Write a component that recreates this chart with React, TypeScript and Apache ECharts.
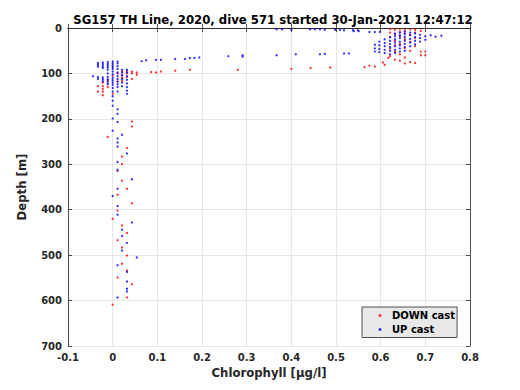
import React, { useEffect, useRef } from "react";
import * as echarts from "echarts";

const titleText = "SG157 TH Line, 2020, dive 571 started 30-Jan-2021 12:47:12";
const xTicks = [-0.1, 0, 0.1, 0.2, 0.3, 0.4, 0.5, 0.6, 0.7, 0.8];
const yTicks = [0, 100, 200, 300, 400, 500, 600, 700];
const seriesNames = ["DOWN cast", "UP cast"];

// DOWN cast [chlorophyll, depth]
const downSurface: number[][] = [
  [0.621, 2], [0.621, 10], [0.621, 20], [0.621, 45], [0.621, 62],
  [0.632, 4], [0.632, 14], [0.632, 28], [0.632, 38], [0.632, 52], [0.632, 70],
  [0.643, 2], [0.643, 8], [0.643, 18], [0.643, 35], [0.643, 58], [0.643, 72],
  [0.654, 5], [0.654, 12], [0.654, 24], [0.654, 44], [0.654, 65], [0.654, 78],
  [0.666, 3], [0.666, 15], [0.666, 30], [0.666, 50], [0.666, 75],
  [0.677, 4], [0.677, 10], [0.677, 22], [0.677, 40], [0.677, 77],
  [0.69, 6], [0.69, 52], [0.69, 60], [0.7, 52], [0.7, 60],
  [0.609, 81], [0.605, 76], [0.617, 66], [0.564, 86], [0.575, 83], [0.587, 85],
];
const downBranch: number[][] = [
  [0.487, 87], [0.443, 88], [0.4, 90], [0.28, 92], [0.173, 92], [0.14, 94],
  [0.108, 96], [0.097, 98], [0.086, 97], [0.054, 103], [0.054, 98],
  [0.043, 96], [0.043, 100], [0.043, 112],
];
const downCluster: number[][] = [
  [-0.033, 128], [-0.033, 140], [-0.022, 120], [-0.022, 128], [-0.022, 134],
  [-0.022, 140], [-0.022, 148], [-0.011, 115], [-0.011, 122], [-0.011, 130],
  [0, 105], [0, 145], [0.011, 100], [0.011, 118], [0.021, 96], [0.021, 104],
  [0.021, 110], [0.021, 116], [0.032, 94], [0.032, 100], [0.032, 108],
];
const downDeep: number[][] = [
  [0.043, 206], [0.043, 217], [-0.011, 240], [0.032, 264], [0.021, 283],
  [0.021, 300], [0.011, 315], [0.021, 336], [0.032, 354], [0.011, 367],
  [0.043, 386], [0.011, 402], [0, 420], [0.021, 435], [0.032, 451],
  [0.011, 467], [0.021, 483], [0.032, 501], [0.021, 519], [0.032, 534],
  [0.011, 549], [0.043, 564], [0.032, 593], [0, 609],
];

// UP cast [chlorophyll, depth]
const upTop: number[][] = [
  [0.367, 3], [0.379, 3], [0.4, 4], [0.442, 3], [0.453, 3], [0.464, 3],
  [0.475, 4], [0.498, 4], [0.509, 4], [0.518, 5], [0.538, 5], [0.549, 5],
  [0.54, 7], [0.551, 7], [0.575, 9], [0.587, 9], [0.598, 9],
];
const upBranch: number[][] = [
  [0.065, 73], [0.075, 71], [0.097, 70], [0.108, 70], [0.14, 68], [0.162, 68],
  [0.173, 66], [0.183, 66], [0.194, 65], [0.259, 62], [0.291, 60], [0.291, 63],
  [0.367, 60], [0.41, 58], [0.464, 58], [0.475, 57], [0.518, 56], [0.529, 56],
];
const upSurface: number[][] = [
  [0.587, 37], [0.587, 45], [0.587, 52],
  [0.597, 30], [0.597, 38], [0.597, 46], [0.597, 53],
  [0.609, 25], [0.609, 33], [0.609, 40], [0.609, 48], [0.609, 55],
  [0.621, 20], [0.621, 28], [0.621, 35], [0.621, 42], [0.621, 50], [0.621, 58],
  [0.632, 12], [0.632, 18], [0.632, 25], [0.632, 32], [0.632, 40], [0.632, 48], [0.632, 55],
  [0.643, 10], [0.643, 16], [0.643, 22], [0.643, 30], [0.643, 38], [0.643, 45], [0.643, 52],
  [0.654, 8], [0.654, 14], [0.654, 20], [0.654, 28], [0.654, 35], [0.654, 42], [0.654, 50],
  [0.666, 10], [0.666, 16], [0.666, 24], [0.666, 32], [0.666, 40],
  [0.677, 12], [0.677, 20], [0.677, 28], [0.677, 36],
  [0.688, 15], [0.688, 22], [0.688, 30], [0.7, 18], [0.7, 26],
  [0.712, 16], [0.723, 19], [0.736, 17],
];
const upCluster: number[][] = [
  [-0.044, 106],
  [-0.033, 77], [-0.033, 81], [-0.033, 85], [-0.033, 108], [-0.033, 112],
  [-0.022, 76], [-0.022, 80], [-0.022, 84], [-0.022, 88], [-0.022, 109], [-0.022, 113], [-0.022, 117],
  [-0.011, 75], [-0.011, 79], [-0.011, 83], [-0.011, 87], [-0.011, 92], [-0.011, 100],
  [-0.011, 108], [-0.011, 113], [-0.011, 118], [-0.011, 124],
  [0, 74], [0, 78], [0, 82], [0, 86], [0, 90], [0, 96], [0, 102], [0, 110], [0, 115],
  [0, 120], [0, 125], [0, 132], [0, 140], [0, 150], [0, 160],
  [0.011, 74], [0.011, 78], [0.011, 84], [0.011, 90], [0.011, 98], [0.011, 106],
  [0.011, 112], [0.011, 118], [0.011, 124], [0.011, 130], [0.011, 140],
  [0.021, 92], [0.021, 98], [0.021, 104], [0.021, 112], [0.021, 120], [0.021, 128],
  [0.032, 92], [0.032, 98], [0.032, 106], [0.032, 114], [0.032, 122], [0.032, 130],
  [0.032, 138], [0.032, 145],
];
const upDeep: number[][] = [
  [0, 171], [0.011, 179], [0.011, 189], [0, 199], [0.011, 207], [0, 226],
  [0.021, 235], [0.011, 243], [0.011, 252], [0.011, 261], [0.032, 276],
  [0.011, 295], [0.011, 312], [0.043, 333], [0.011, 354], [0, 370],
  [0.011, 392], [0.011, 411], [0.043, 428], [0.021, 444], [0.021, 458],
  [0.032, 473], [0.021, 490], [0.054, 505], [0.011, 522], [0.032, 537],
  [0.032, 558], [0.032, 574], [0.032, 580], [0.011, 593],
];

const downData = [...downSurface, ...downBranch, ...downCluster, ...downDeep];
const upData = [...upTop, ...upBranch, ...upSurface, ...upCluster, ...upDeep];

const FONT = "DejaVu Sans";
const AX = "#262626";

export default function App() {
  const ref = useRef<HTMLDivElement>(null);
  useEffect(() => {
    if (!ref.current) return;
    const chart = echarts.init(ref.current, undefined, { renderer: "svg" });
    const fmtX = (v: number) => {
      const r = Math.round(v * 10) / 10;
      return r === 0 ? "0" : r.toFixed(1);
    };
    const labelStyle = { color: AX, fontFamily: FONT, fontWeight: "bold" as const, fontSize: 10 };
    chart.setOption({
      animation: false,
      backgroundColor: "#ffffff",
      title: {
        text: titleText,
        left: 268,
        top: 9,
        textAlign: "center",
        textStyle: { color: "#000", fontFamily: FONT, fontWeight: "bold", fontSize: 11.7 },
      },
      grid: { left: 68, right: 50, top: 28, bottom: 44, containLabel: false },
      legend: {
        data: seriesNames,
        orient: "vertical",
        left: 362,
        top: 307,
        itemWidth: 14,
        itemHeight: 3,
        itemGap: 0,
        padding: [1.5, 2, 1, 16.5],
        backgroundColor: "#e8e8e8",
        borderColor: AX,
        borderWidth: 0.8,
        borderRadius: 0,
        icon: "circle",
        textStyle: { color: "#000", fontFamily: FONT, fontWeight: "bold", fontSize: 10, lineHeight: 14 },
      },
      xAxis: [
        {
          type: "value",
          min: -0.1,
          max: 0.8,
          interval: 0.1,
          position: "bottom",
          name: "Chlorophyll [μg/l]",
          nameLocation: "middle",
          nameGap: 20,
          nameTextStyle: { color: AX, fontFamily: FONT, fontWeight: "bold", fontSize: 11.7 },
          axisLine: { show: true, lineStyle: { color: AX, width: 0.8 } },
          axisTick: { show: true, inside: true, length: 4, lineStyle: { color: AX, width: 0.8 } },
          axisLabel: { ...labelStyle, margin: 6, formatter: fmtX },
          splitLine: { show: true, lineStyle: { color: "#e0e0e0", width: 0.8 } },
        },
        {
          type: "value",
          min: -0.1,
          max: 0.8,
          interval: 0.1,
          position: "top",
          axisLine: { show: true, onZero: false, lineStyle: { color: AX, width: 0.8 } },
          axisTick: { show: true, inside: true, length: 4, lineStyle: { color: AX, width: 0.8 } },
          axisLabel: { show: false },
          splitLine: { show: false },
        },
      ],
      yAxis: [
        {
          type: "value",
          min: 0,
          max: 700,
          interval: 100,
          inverse: true,
          position: "left",
          name: "Depth [m]",
          nameLocation: "middle",
          nameGap: 40,
          nameTextStyle: { color: AX, fontFamily: FONT, fontWeight: "bold", fontSize: 11.7 },
          axisLine: { show: true, onZero: false, lineStyle: { color: AX, width: 0.8 } },
          axisTick: { show: true, inside: true, length: 4, lineStyle: { color: AX, width: 0.8 } },
          axisLabel: { ...labelStyle, margin: 6 },
          splitLine: { show: true, lineStyle: { color: "#e0e0e0", width: 0.8 } },
        },
        {
          type: "value",
          min: 0,
          max: 700,
          interval: 100,
          inverse: true,
          position: "right",
          axisLine: { show: true, onZero: false, lineStyle: { color: AX, width: 0.8 } },
          axisTick: { show: true, inside: true, length: 4, lineStyle: { color: AX, width: 0.8 } },
          axisLabel: { show: false },
          splitLine: { show: false },
        },
      ],
      series: [
        {
          name: seriesNames[0],
          type: "scatter",
          xAxisIndex: 0,
          yAxisIndex: 0,
          data: downData,
          symbol: "circle",
          symbolSize: 2.3,
          itemStyle: { color: "#ff0000" },
        },
        {
          name: seriesNames[1],
          type: "scatter",
          xAxisIndex: 0,
          yAxisIndex: 0,
          data: upData,
          symbol: "circle",
          symbolSize: 2.3,
          itemStyle: { color: "#0000ff" },
        },
      ],
    });
    return () => chart.dispose();
  }, []);
  return <div ref={ref} style={{ width: 520, height: 390, position: "absolute", left: 0, top: 0 }} />;
}
